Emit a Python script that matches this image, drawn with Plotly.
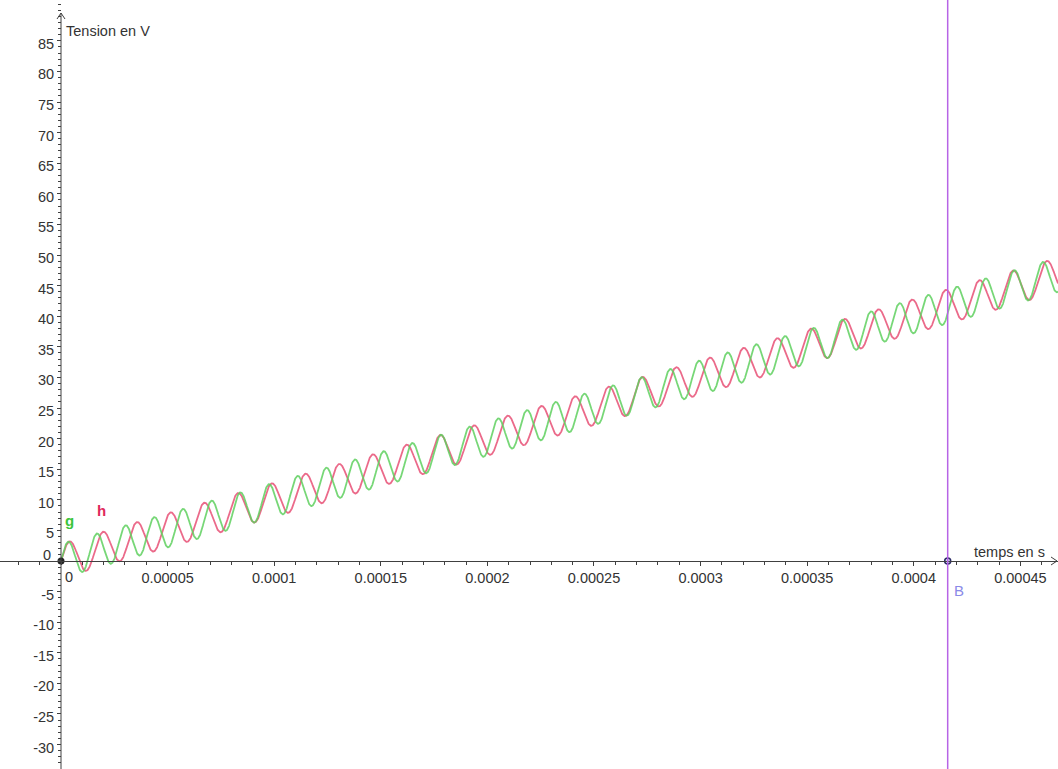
import numpy as np
import plotly.graph_objects as go

# ---- tick labels ----
x_tick_vals = [0.00005, 0.0001, 0.00015, 0.0002, 0.00025, 0.0003, 0.00035, 0.0004, 0.00045]
x_tick_text = ["0.00005", "0.0001", "0.00015", "0.0002", "0.00025", "0.0003", "0.00035", "0.0004", "0.00045"]
y_tick_vals = [-30, -25, -20, -15, -10, -5, 5, 10, 15, 20, 25, 30, 35, 40, 45, 50, 55, 60, 65, 70, 75, 80, 85]
y_tick_text = [str(v) for v in y_tick_vals]

# ---- function parameters (g and h: ramp + sine) ----
slope = 1.0e5          # V per s
amp = 2.8              # V
omega_g = 4.673e5      # rad/s
omega_h = 3.975e5      # rad/s
t_B = 4.159e-4         # position of vertical line B

# ---- view window ----
x_min, x_max = -2.861e-5, 4.6764e-4
y_min, y_max = -33.99, 91.67

W, H = 1058, 769
px_per_x = W / (x_max - x_min)
px_per_y = H / (y_max - y_min)


def dx(px):
    return px / px_per_x


def dy(px):
    return px / px_per_y


t = np.linspace(0, x_max, 5000)
g_vals = slope * t + amp * np.sin(omega_g * t)
h_vals = slope * t + amp * np.sin(omega_h * t)

fig = go.Figure()
fig.add_trace(go.Scatter(x=t, y=h_vals, mode="lines", name="h",
                         line=dict(color="rgba(232,80,118,0.85)", width=1.8), hoverinfo="skip"))
fig.add_trace(go.Scatter(x=t, y=g_vals, mode="lines", name="g",
                         line=dict(color="rgba(95,208,95,0.85)", width=1.8), hoverinfo="skip"))

# vertical line B
fig.add_shape(type="line", x0=t_B, x1=t_B, y0=y_min, y1=y_max, xref="x", yref="y",
              line=dict(color="#b764e6", width=1.5))

# y axis line with arrow
axis_col = "#404040"
y_tip = y_max - dy(13)
fig.add_shape(type="line", x0=0, x1=0, y0=y_min, y1=y_tip, xref="x", yref="y",
              line=dict(color=axis_col, width=1))
fig.add_shape(type="path", xref="x", yref="y",
              path=f"M {-dx(4)} {y_tip - dy(6)} L 0 {y_tip} L {dx(4)} {y_tip - dy(6)}",
              line=dict(color=axis_col, width=1))
# x axis arrow
x_tip = x_max - dx(1)
fig.add_shape(type="path", xref="x", yref="y",
              path=f"M {x_tip - dx(6)} {dy(4)} L {x_tip} 0 L {x_tip - dx(6)} {-dy(4)}",
              line=dict(color=axis_col, width=1))

# points
fig.add_trace(go.Scatter(x=[0], y=[0], mode="markers",
                         marker=dict(color="#222222", size=7), hoverinfo="skip"))
fig.add_trace(go.Scatter(x=[t_B], y=[0], mode="markers",
                         marker=dict(color="#d8d8f0", size=6, line=dict(color="#2b2b66", width=1.5)),
                         hoverinfo="skip"))

font_main = "Liberation Sans, Arial, sans-serif"
txt_col = "#333333"
fs = 14.5

annotations = [
    dict(text="Tension en V", x=dx(64 - 61), y=dy(561 - 31), xanchor="left", yanchor="middle",
         font=dict(size=fs, color=txt_col)),
    dict(text="temps en s", x=dx(972 - 61), y=dy(561 - 552), xanchor="left", yanchor="middle",
         font=dict(size=fs, color=txt_col)),
    dict(text="0", x=dx(68.5 - 61), y=dy(561 - 577), xanchor="center", yanchor="middle",
         font=dict(size=fs, color=txt_col)),
    dict(text="0", x=dx(53 - 61), y=dy(561 - 555), xanchor="right", yanchor="middle",
         font=dict(size=fs, color=txt_col)),
    dict(text="<b>g</b>", x=dx(69.5 - 61), y=dy(561 - 521), xanchor="center", yanchor="middle",
         font=dict(size=15, color="#3cc43c")),
    dict(text="<b>h</b>", x=dx(101.5 - 61), y=dy(561 - 511), xanchor="center", yanchor="middle",
         font=dict(size=15, color="#e0285a")),
    dict(text="B", x=t_B + dx(11), y=dy(561 - 591), xanchor="center", yanchor="middle",
         font=dict(size=15, color="#8a8ae8")),
]
for a in annotations:
    a.update(xref="x", yref="y", showarrow=False)

fig.update_layout(
    width=W, height=H,
    margin=dict(l=0, r=0, t=0, b=0),
    paper_bgcolor="white", plot_bgcolor="white",
    showlegend=False,
    font=dict(family=font_main, size=fs, color=txt_col),
    annotations=annotations,
    xaxis=dict(
        range=[x_min, x_max], domain=[0, 1], anchor="free",
        position=(0 - y_min) / (y_max - y_min),
        showgrid=False, zeroline=False, automargin=False,
        showline=True, linecolor=axis_col, linewidth=1,
        tickmode="array", tickvals=x_tick_vals, ticktext=x_tick_text,
        ticks="outside", ticklen=4, tickcolor=axis_col, tickwidth=1,
        minor=dict(tick0=0, dtick=0.00001, ticks="outside", ticklen=3, tickcolor=axis_col, showgrid=False),
        tickfont=dict(size=fs, color=txt_col, family=font_main),
    ),
    yaxis=dict(
        range=[y_min, y_max], domain=[0, 1], anchor="free",
        position=(0 - x_min) / (x_max - x_min),
        showgrid=False, zeroline=False, automargin=False,
        showline=False,
        tickmode="array", tickvals=y_tick_vals, ticktext=y_tick_text,
        ticks="outside", ticklen=4, tickcolor=axis_col, tickwidth=1,
        ticklabelshift=3,
        minor=dict(tick0=0, dtick=1, ticks="outside", ticklen=3, tickcolor=axis_col, showgrid=False),
        tickfont=dict(size=fs, color=txt_col, family=font_main),
    ),
)

fig.write_html("out.html", config={"displayModeBar": False},
               post_script="document.body.style.margin='0';document.body.style.overflow='hidden';")
